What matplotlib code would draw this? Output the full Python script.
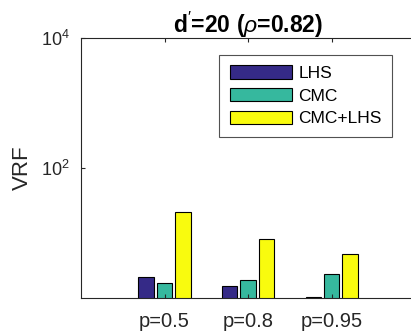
import numpy as np
import matplotlib.pyplot as plt

# ---------------- Datos ----------------
grupos = ["p=0.5", "p=0.8", "p=0.95"]
series = ["LHS", "CMC", "CMC+LHS"]
vrf_lhs = [2.10, 1.55, 1.02]
vrf_cmc = [1.70, 1.87, 2.37]
vrf_cmc_lhs = [21.0, 8.2, 4.7]
colores = ["#352a87", "#36b89e", "#f9fb0e"]

plt.rcParams['font.family'] = ['Liberation Sans', 'DejaVu Sans']
plt.rcParams['mathtext.fontset'] = 'custom'
plt.rcParams['mathtext.rm'] = 'Liberation Sans'
plt.rcParams['mathtext.it'] = 'Liberation Sans:italic'

fig = plt.figure(figsize=(4.11, 3.31), dpi=100)
ax = fig.add_axes([0.197, 0.0997, 0.813, 0.7853])

x = np.arange(1, len(grupos) + 1)
ancho = 0.183
paso = 0.22
for i, (vals, nombre) in enumerate(zip([vrf_lhs, vrf_cmc, vrf_cmc_lhs], series)):
    ax.bar(x + (i - 1) * paso, vals, width=ancho, color=colores[i],
           edgecolor="black", linewidth=0.8, label=nombre, log=True)

ax.set_yscale("log")
ax.set_ylim(1, 1e4)
ax.set_xlim(0, 4)
ax.set_yticks([1e2, 1e4])
ax.set_yticklabels([r"$\mathrm{10^{2}}$", r"$\mathrm{10^{4}}$"])
ax.yaxis.set_minor_locator(plt.NullLocator())
ax.set_xticks(x)
ax.set_xticklabels(grupos)

gris = "#262626"
for s in ax.spines.values():
    s.set_color(gris)
    s.set_linewidth(0.8)
ax.spines["right"].set_visible(False)
ax.tick_params(direction="in", top=True, right=False, colors=gris, length=3)
ax.tick_params(axis="y", labelsize=13, pad=8)
ax.tick_params(axis="x", labelsize=14.5, pad=10)

ax.set_ylabel("VRF", fontsize=16, color=gris, labelpad=6)
ax.set_title(r"d$'$=20 ($\rho$=0.82)", fontsize=16.5, fontweight="bold", pad=4)

leg = ax.legend(loc="upper left", bbox_to_anchor=(0.414, 0.935), fontsize=12.5,
                frameon=True, fancybox=False, edgecolor=gris,
                handlelength=3.6, handleheight=0.8, borderpad=0.6,
                labelspacing=0.4, handletextpad=0.35, borderaxespad=0)
leg.get_frame().set_linewidth(0.8)

fig.savefig("out.png", dpi=100)
